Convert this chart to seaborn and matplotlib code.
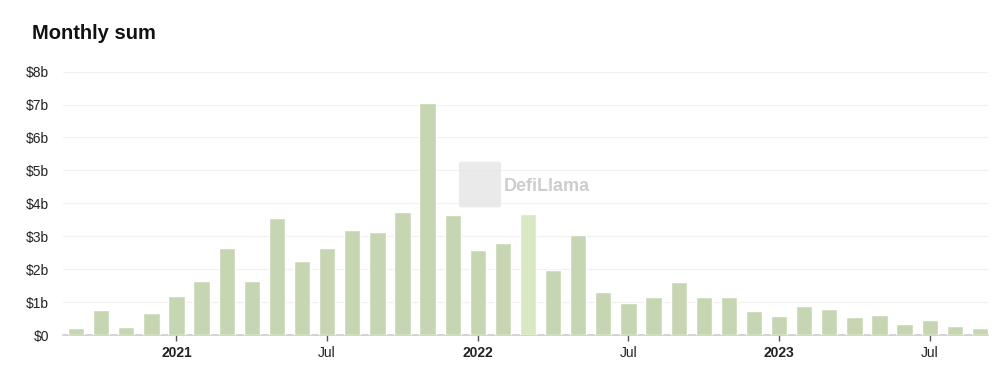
import pandas as pd
import seaborn as sns
import matplotlib.pyplot as plt
from matplotlib.patches import FancyBboxPatch

months = pd.date_range('2020-09-01', '2023-09-01', freq='MS')
values = [0.20, 0.76, 0.25, 0.66, 1.18, 1.64, 2.63, 1.64, 3.54, 2.25, 2.63, 3.20,
          3.13, 3.74, 7.06, 3.66, 2.58, 2.79, 3.67, 1.98, 3.05, 1.30, 0.98, 1.15,
          1.60, 1.15, 1.14, 0.73, 0.58, 0.88, 0.80, 0.56, 0.60, 0.34, 0.46, 0.28, 0.21]
highlight = '2022-03'
tick_months = ['2021-01', '2021-07', '2022-01', '2022-07', '2023-01', '2023-07']
tick_labels = ['2021', 'Jul', '2022', 'Jul', '2023', 'Jul']
y_ticks = [0, 1, 2, 3, 4, 5, 6, 7, 8]

df = pd.DataFrame({'month': months.strftime('%Y-%m'), 'value': values})
bar_col = '#c7d6b2'
hi_col = '#d9e8c3'
colors = [hi_col if m == highlight else bar_col for m in df['month']]

sns.set_style('white')
plt.rcParams['font.family'] = ['Liberation Sans', 'DejaVu Sans']

fig = plt.figure(figsize=(10, 3.71), dpi=100, facecolor='white')
ax = fig.add_axes([0.063, 0.097, 0.925, 0.710])

sns.barplot(data=df, x='month', y='value', hue='month', palette=colors,
            legend=False, width=0.65, saturation=1, ax=ax, zorder=3)

ax.set_xlim(-0.52, len(df) - 0.68)
ax.set_ylim(0, 8)
ax.set_yticks(y_ticks)
ax.set_yticklabels(['$0'] + ['$%db' % v for v in y_ticks[1:]], fontsize=10, color='#222222')
ax.yaxis.grid(True, color='#f1f1f1', linewidth=0.9, zorder=0)
ax.tick_params(axis='y', length=0, pad=10)

pos = [list(df['month']).index(m) for m in tick_months]
ax.set_xticks(pos)
ax.set_xticklabels(tick_labels, fontsize=10, color='#222222')
for lab in ax.get_xticklabels():
    if lab.get_text() != 'Jul':
        lab.set_fontweight('bold')
ax.tick_params(axis='x', length=4, width=1, color='#555555', pad=4, direction='out')
ax.xaxis.set_ticks_position('bottom')

for s in ['top', 'right', 'left']:
    ax.spines[s].set_visible(False)
ax.spines['bottom'].set_color('#cccccc')
ax.spines['bottom'].set_linewidth(1.2)
ax.set_xlabel('')
ax.set_ylabel('')

fig.text(0.032, 0.895, 'Monthly sum', fontsize=14.5, fontweight='bold', color='#111111')

# watermark
fig.patches.append(FancyBboxPatch((0.463, 0.445), 0.034, 0.115, boxstyle='round,pad=0.004',
                                  transform=fig.transFigure, facecolor='#e4e4e4',
                                  edgecolor='none', alpha=0.75, zorder=5))
fig.text(0.504, 0.497, 'DefiLlama', fontsize=13, fontweight='bold', color='#cdcdcd',
         va='center', ha='left', zorder=5)

plt.savefig('out.png', dpi=100, facecolor='white')
